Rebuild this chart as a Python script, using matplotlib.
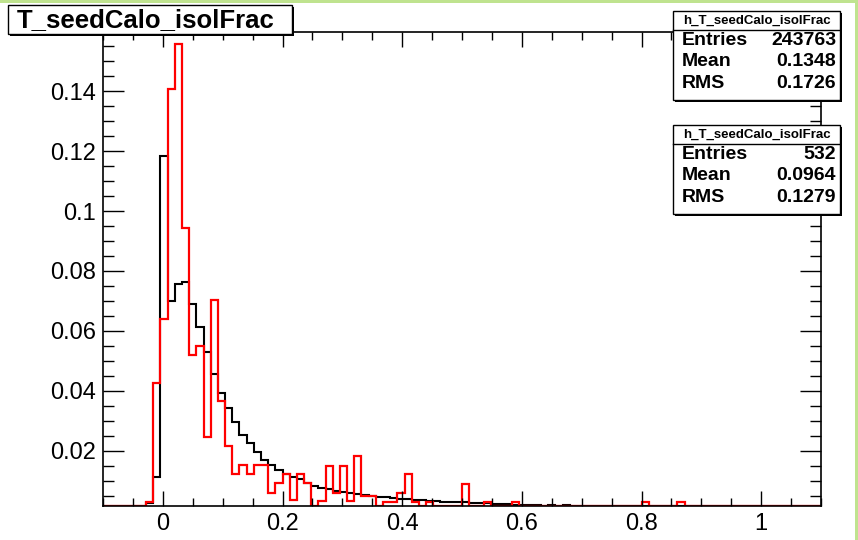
import numpy as np
import matplotlib
matplotlib.use('Agg')
import matplotlib.pyplot as plt
from matplotlib.patches import Rectangle
from matplotlib.ticker import MultipleLocator, FuncFormatter

plt.rcParams['font.family'] = ['Liberation Sans', 'DejaVu Sans']

# 100 bins from -0.1 to 1.1 (bin width 0.012)
xlo, xhi, nbins = -0.1, 1.1, 100

# all-candidates histogram (black), normalised
black = [0, 0, 0, 0, 0, 0, 0.0024, 0.0113, 0.1185, 0.0701,
         0.0758, 0.0764, 0.0690, 0.0612, 0.0530, 0.0457, 0.0392, 0.0342, 0.0297, 0.0252,
         0.0225, 0.0196, 0.0170, 0.0152, 0.0135, 0.0122, 0.0113, 0.0104, 0.0093, 0.0083,
         0.0077, 0.0071, 0.0066, 0.0062, 0.0059, 0.0055, 0.0052, 0.0049, 0.0046, 0.0044,
         0.0042, 0.0040, 0.0038, 0.0036, 0.0035, 0.0033, 0.0032, 0.0030, 0.0029, 0.0028,
         0.0027, 0.0026, 0.0025, 0.0024, 0.0023, 0.0022, 0.0021, 0.0020, 0.0019, 0.0019,
         0.0017, 0.0015, 0.0018, 0.0015, 0.0017, 0.0015, 0.0016, 0.0014, 0.0014, 0.0013,
         0.0013, 0.0013, 0.0012, 0.0012, 0.0012, 0.0011, 0.0011, 0.0011, 0.0010, 0.0010,
         0.0010, 0.0010, 0.0009, 0.0009, 0.0009, 0.0009, 0.0009, 0.0008, 0.0008, 0.0008,
         0.0008, 0.0008, 0.0008, 0.0007, 0.0007, 0.0007, 0.0007, 0.0007, 0.0006, 0.0006]

# matched histogram (red), normalised
red = [0, 0, 0, 0, 0, 0, 0.003, 0.0427, 0.0639, 0.1407,
       0.1559, 0.0945, 0.0519, 0.0550, 0.0245, 0.0702, 0.0366, 0.0216, 0.0121, 0.0151,
       0.0121, 0.0151, 0.0151, 0.0060, 0.0092, 0.0122, 0.0035, 0.0121, 0.0092, 0,
       0.0032, 0.0148, 0.0058, 0.0148, 0.0032, 0.0181, 0.0048, 0.0048, 0, 0.003,
       0.003, 0.006, 0.0121, 0.003, 0, 0.003, 0, 0, 0, 0,
       0.009, 0, 0, 0.003, 0, 0, 0, 0.003, 0, 0,
       0, 0, 0, 0, 0, 0, 0, 0, 0, 0,
       0, 0, 0, 0, 0, 0.003, 0, 0, 0, 0,
       0.003, 0, 0, 0, 0, 0, 0, 0, 0, 0,
       0, 0, 0, 0, 0, 0, 0, 0, 0, 0]

title = 'T_seedCalo_isolFrac'
hname = 'h_T_seedCalo_isolFrac'
stats1 = [('Entries', '243763'), ('Mean', '0.1348'), ('RMS', '0.1726')]
stats2 = [('Entries', '532'), ('Mean', '0.0964'), ('RMS', '0.1279')]

W, H = 858, 540
ymin, ymax = 0.00163, 0.1599

fig = plt.figure(figsize=(W/100, H/100), dpi=100)

def fx(x): return x/W
def fy(y): return 1 - y/H

ax = fig.add_axes([fx(103), fy(505.7), (821-103)/W, (505.7-31.7)/H])
edges = np.linspace(xlo, xhi, nbins+1)
# ROOT draws empty bins on the frame bottom
ax.stairs(np.maximum(black, ymin), edges, color='black', lw=1.5, baseline=None)
ax.stairs(np.maximum(red, ymin), edges, color='#ff0000', lw=1.6, baseline=None)
ax.set_xlim(xlo, xhi)
ax.set_ylim(ymin, ymax)

ax.xaxis.set_major_locator(MultipleLocator(0.2))
ax.xaxis.set_minor_locator(MultipleLocator(0.05))
ax.yaxis.set_major_locator(MultipleLocator(0.02))
ax.yaxis.set_minor_locator(MultipleLocator(0.005))
fmt = FuncFormatter(lambda v, p: '%g' % round(v, 6))
ax.xaxis.set_major_formatter(fmt)
ax.yaxis.set_major_formatter(fmt)
ax.tick_params(which='both', direction='in', top=True, right=True, labelsize=17, width=1)
ax.tick_params(axis='y', which='major', length=15, pad=5)
ax.tick_params(axis='y', which='minor', length=8)
ax.tick_params(axis='x', which='major', length=11, pad=5)
ax.tick_params(axis='x', which='minor', length=6)
for s in ax.spines.values():
    s.set_linewidth(1.2)

def box(x0, y0, x1, y1):
    # box with ROOT-style shadow
    fig.patches.append(Rectangle((fx(x0+2), fy(y1+2)), (x1-x0)/W, (y1-y0)/H,
                                 transform=fig.transFigure, facecolor='black', edgecolor='none'))
    fig.patches.append(Rectangle((fx(x0), fy(y1)), (x1-x0)/W, (y1-y0)/H,
                                 transform=fig.transFigure, facecolor='white', edgecolor='black', lw=1))

# title
box(8, 5, 292, 34)
fig.text(fx(17), fy(20), title, ha='left', va='center', fontsize=18.5, fontweight='bold')

def statbox(top, rows):
    x0, x1 = 673, 840
    box(x0, top, x1, top + 89)
    fig.add_artist(plt.Line2D([fx(x0), fx(x1)], [fy(top+19), fy(top+19)], color='black', lw=1,
                              transform=fig.transFigure))
    fig.text(fx((x0+x1)/2), fy(top+10), hname, ha='center', va='center', fontsize=9.5, fontweight='bold')
    for i, (k, v) in enumerate(rows):
        yy = top + 29.5 + i*21.5
        fig.text(fx(682), fy(yy), k, ha='left', va='center', fontsize=14, fontweight='bold')
        fig.text(fx(836), fy(yy), v, ha='right', va='center', fontsize=14, fontweight='bold')

statbox(11, stats1)
statbox(125, stats2)

# green canvas border
green = '#bfe38f'
fig.patches.append(Rectangle((0, fy(3)), 1, 3/H, transform=fig.transFigure, facecolor=green, edgecolor='none'))
fig.patches.append(Rectangle((fx(855), 0), 3/W, 1, transform=fig.transFigure, facecolor=green, edgecolor='none'))

fig.savefig('out.png', dpi=100)
